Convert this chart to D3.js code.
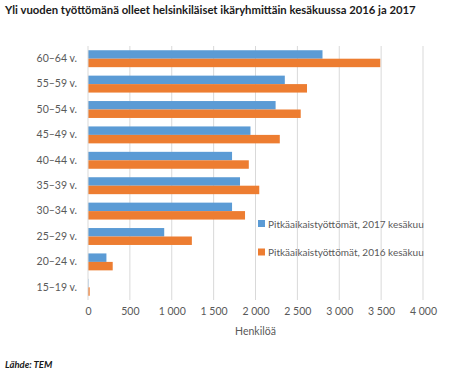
<!DOCTYPE html>
<html>
<head>
<meta charset="utf-8">
<script src="https://cdnjs.cloudflare.com/ajax/libs/d3/7.8.5/d3.min.js"></script>
<style>
  body { margin: 0; background: #fff; }
  text { font-family: Lato, "Open Sans", sans-serif; }
</style>
</head>
<body>
<div class="canvas"></div>
<script>
// data
const ageGroups = ['60–64 v.', '55–59 v.', '50–54 v.', '45–49 v.', '40–44 v.', '35–39 v.', '30–34 v.', '25–29 v.', '20–24 v.', '15–19 v.'];
const values2017 = [2800, 2350, 2240, 1940, 1720, 1815, 1720, 910, 220, 5];
const values2016 = [3490, 2615, 2540, 2290, 1920, 2045, 1875, 1240, 295, 20];
const seriesNames = ['Pitkäaikaistyöttömät, 2017 kesäkuu', 'Pitkäaikaistyöttömät, 2016 kesäkuu'];
const xTicks = [0, 500, 1000, 1500, 2000, 2500, 3000, 3500, 4000];
const colors = ['#5b9bd5', '#ed7d31'];

const W = 450, H = 378;
const margin = {top: 46, left: 88, right: 27, bottom: 78};
const width = W - margin.left - margin.right;
const height = H - margin.top - margin.bottom;
const font = 'Lato, "Open Sans", sans-serif';

const svg = d3.select('.canvas')
  .append('svg')
  .attr('width', W)
  .attr('height', H);

// title
svg.append('text')
  .attr('x', 5)
  .attr('y', 14)
  .attr('font-size', 11.3)
  .attr('font-weight', 'bold')
  .attr('fill', '#1a1a1a')
  .text('Yli vuoden työttömänä olleet helsinkiläiset ikäryhmittäin kesäkuussa 2016 ja 2017');

const graph = svg.append('g')
  .attr('transform', `translate(${margin.left},${margin.top})`);

// scales
const x = d3.scaleLinear().domain([0, 4000]).range([0, width]);
const y = d3.scaleBand().domain(ageGroups).range([0, height]);
const inner = d3.scaleBand().domain([0, 1]).range([0, y.bandwidth()]).paddingInner(0).paddingOuter(0.5);

// gridlines
graph.selectAll('.grid')
  .data(xTicks.slice(1))
  .enter().append('line')
    .attr('x1', d => x(d))
    .attr('x2', d => x(d))
    .attr('y1', 0)
    .attr('y2', height)
    .attr('stroke', '#d9d9d9')
    .attr('stroke-width', 1);

// bars
const series = [values2017, values2016];
series.forEach((vals, s) => {
  graph.selectAll('.bar' + s)
    .data(vals)
    .enter().append('rect')
      .attr('x', 0)
      .attr('y', (d, i) => y(ageGroups[i]) + inner(s))
      .attr('width', d => x(d))
      .attr('height', inner.bandwidth())
      .attr('fill', colors[s]);
});

// axis line
graph.append('line')
  .attr('x1', 0).attr('x2', 0)
  .attr('y1', 0).attr('y2', height)
  .attr('stroke', '#d9d9d9');

// x axis
const xAxis = d3.axisBottom(x)
  .tickValues(xTicks)
  .tickSize(0)
  .tickPadding(8)
  .tickFormat(d => d3.format(',')(d).replace(',', '\u00a0'));

const xAxisGroup = graph.append('g')
  .attr('transform', `translate(0,${height})`)
  .call(xAxis);
xAxisGroup.select('.domain').remove();
xAxisGroup.selectAll('text')
  .attr('font-size', 10.5)
  .attr('fill', '#595959')
  .style('font-family', font);

// y axis
const yAxis = d3.axisLeft(y).tickSize(0).tickPadding(11);
const yAxisGroup = graph.append('g').call(yAxis);
yAxisGroup.select('.domain').remove();
yAxisGroup.selectAll('text')
  .attr('font-size', 10.5)
  .attr('fill', '#595959')
  .style('font-family', font);

// axis title
svg.append('text')
  .attr('x', margin.left + x(2000))
  .attr('y', 335)
  .attr('text-anchor', 'middle')
  .attr('font-size', 10.5)
  .attr('fill', '#595959')
  .text('Henkilöä');

// legend
const legend = svg.append('g')
  .attr('transform', 'translate(258,224)');
seriesNames.forEach((name, i) => {
  const row = legend.append('g').attr('transform', `translate(0,${i * 28.5})`);
  row.append('rect')
    .attr('x', 0).attr('y', -4)
    .attr('width', 7).attr('height', 7)
    .attr('fill', colors[i]);
  row.append('text')
    .attr('x', 10)
    .attr('y', 3.5)
    .attr('font-size', 10)
    .attr('fill', '#595959')
    .text(name);
});

// source
svg.append('text')
  .attr('x', 5)
  .attr('y', 368)
  .attr('font-size', 9.5)
  .attr('font-weight', 'bold')
  .attr('font-style', 'italic')
  .attr('fill', '#1a1a1a')
  .text('Lähde: TEM');
</script>
</body>
</html>
